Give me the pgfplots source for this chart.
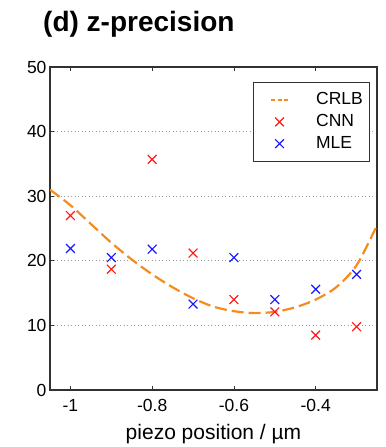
\documentclass[border=0pt]{standalone}
\usepackage{fontspec}
\setmainfont{Liberation Sans}
\usepackage{pgfplots}
\pgfplotsset{compat=1.18}
\definecolor{crlb}{RGB}{245,140,30}
\definecolor{axgray}{RGB}{50,50,50}
\definecolor{mred}{RGB}{255,25,25}
\definecolor{mblue}{RGB}{25,25,255}
\begin{document}
\begin{tikzpicture}
\begin{axis}[
  scale only axis, width=327bp, height=323bp,
  xmin=-1.05, xmax=-0.25, ymin=0, ymax=50,
  xtick={-1,-0.8,-0.6,-0.4}, xticklabels={-1,-0.8,-0.6,-0.4},
  ytick={0,10,20,30,40,50}, yticklabels={0,10,20,30,40,50},
  tick align=inside, xtick pos=both, ytick pos=left,
  major tick length=4bp,
  tick style={axgray, line width=0.8bp},
  axis line style={axgray, line width=1.5bp},
  ymajorgrids,
  grid style={gray!80, line width=1bp, dash pattern=on 1bp off 2.5bp},
  ticklabel style={font=\fontsize{17.5bp}{21bp}\selectfont},
  xticklabel style={yshift=-6bp},
  xlabel={piezo position / µm},
  xlabel style={font=\fontsize{21bp}{25bp}\selectfont, yshift=-6bp},
  legend style={at={(0.978,0.9536)}, anchor=north east,
    draw=axgray, line width=1bp, fill=white,
    inner xsep=4.5bp, inner ysep=8bp,
    font=\fontsize{17.5bp}{20bp}\selectfont,
    nodes={inner sep=2bp, text height=12.5bp, text depth=3bp},
    row sep=2.2bp, column sep=25bp},
  legend cell align=left,
  legend image code/.code={\path (0bp,0bp) (28.5bp,0bp);
    \draw[mark repeat=2,mark phase=2,#1] plot coordinates {(11.5bp,0bp)(20bp,0bp)(28.5bp,0bp)};},
]
\addplot[crlb, line width=2.2bp, dash pattern=on 12bp off 5bp, smooth,
  legend image code/.code={\path (0bp,0bp) (28.5bp,0bp);
    \draw[crlb, line width=2bp, dash pattern=on 4bp off 2.5bp] (11.5bp,0bp) -- (28.5bp,0bp);}]
  coordinates {(-1.05,31.0) (-1.0,28.6) (-0.95,25.7) (-0.9,22.8) (-0.85,20.2) (-0.8,17.9)
  (-0.75,15.9) (-0.7,14.2) (-0.65,12.9) (-0.6,12.2) (-0.55,11.9) (-0.5,12.1) (-0.45,12.8)
  (-0.4,14.0) (-0.35,15.9) (-0.3,19.3) (-0.25,25.5)};
\addlegendentry{CRLB}
\addplot[only marks, mark=x, mred, mark size=6.2bp, mark options={line width=1.2bp}]
  coordinates {(-1.0,27.0) (-0.9,18.7) (-0.8,35.7) (-0.7,21.2) (-0.6,14.0) (-0.5,12.1) (-0.4,8.5) (-0.3,9.8)};
\addlegendentry{CNN}
\addplot[only marks, mark=x, mblue, mark size=6.2bp, mark options={line width=1.2bp}]
  coordinates {(-1.0,21.9) (-0.9,20.5) (-0.8,21.8) (-0.7,13.3) (-0.6,20.5) (-0.5,14.0) (-0.4,15.6) (-0.3,17.9)};
\addlegendentry{MLE}
\end{axis}
\node[anchor=base west, font=\bfseries\fontsize{28bp}{34bp}\selectfont, inner sep=0pt]
  at ([shift={(-7bp,35.3bp)}]current axis.north west) {(d) z-precision};
\pgfresetboundingbox
\path ([shift={(-50bp,-57bp)}]current axis.south west) rectangle ([shift={(9bp,67bp)}]current axis.north east);
\end{tikzpicture}
\end{document}
